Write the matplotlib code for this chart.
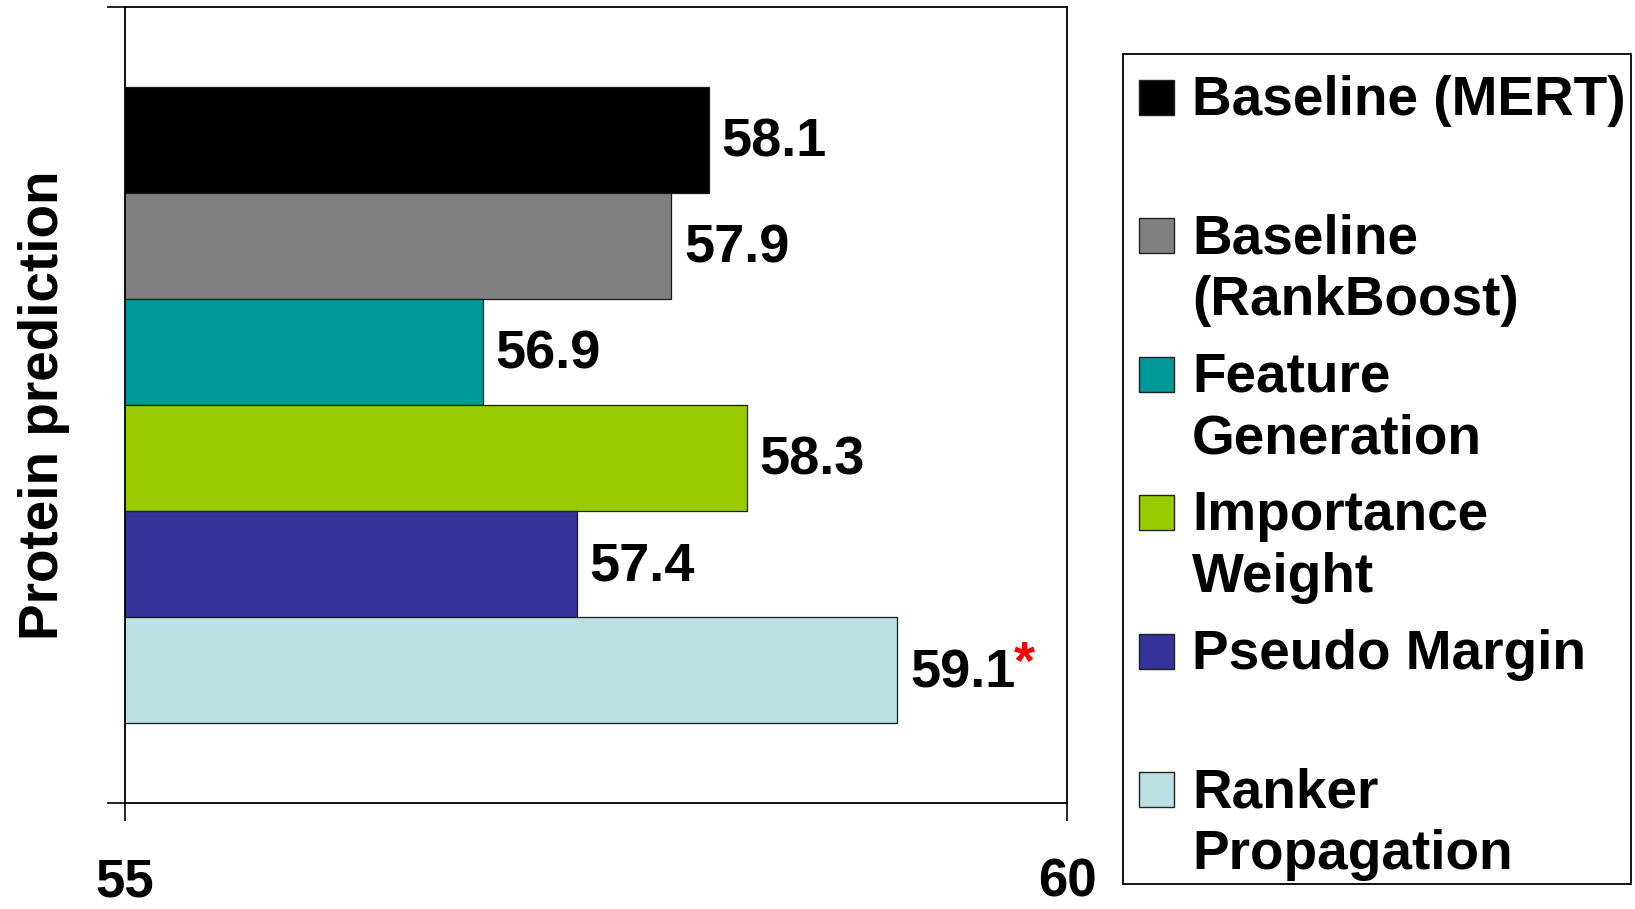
import matplotlib
matplotlib.use("Agg")
import matplotlib.pyplot as plt
from matplotlib.patches import Rectangle
import numpy as np

# Method names (line breaks as shown in the legend), scores and bar colours
methods = ["Baseline (MERT)", "Baseline\n(RankBoost)", "Feature\nGeneration",
           "Importance\nWeight", "Pseudo Margin", "Ranker\nPropagation"]
scores = [58.1, 57.9, 56.9, 58.3, 57.4, 59.1]
colors = ["#000000", "#808080", "#009999", "#99CC00", "#333399", "#BBE0E3"]
significant = [False, False, False, False, False, True]
x_ticks = [55, 60]
y_label = "Protein prediction"

W, H, DPI = 1635, 909, 100
plt.rcParams["font.family"] = ["Liberation Sans", "DejaVu Sans"]
plt.rcParams["font.weight"] = "bold"

fig = plt.figure(figsize=(W / DPI, H / DPI), dpi=DPI)


def fx(px):
    return px / W


def fy(py):
    return 1 - py / H


FS = 39

ax = fig.add_axes([fx(125), fy(803), fx(1067) - fx(125), fy(7) - fy(803)])
pos = np.arange(len(scores))
ax.barh(pos, scores, height=1.0, color=colors, edgecolor="#1a1a1a", linewidth=0.9)
ax.set_xlim(x_ticks[0], x_ticks[-1])
ylim = (len(scores) - 0.5 + 0.75, -0.5 - 0.75)
ax.set_ylim(*ylim)
ax.set_xticks(x_ticks)
ax.set_xticklabels([str(t) for t in x_ticks])
ax.set_yticks(list(ylim))
ax.set_yticklabels([])
ax.tick_params(axis="both", direction="out", length=13, width=1.2, color="black")
ax.tick_params(axis="x", labelsize=38, pad=26)
for s in ax.spines.values():
    s.set_linewidth(1.3)

ax.set_ylabel(y_label, fontsize=39.5, fontweight="bold")
ax.yaxis.set_label_coords((70 - 125) / 942, 0.5)

# Value labels at the end of each bar
for p, v, sig in zip(pos, scores, significant):
    t = ax.annotate(f"{v:.1f}", xy=(v, p), xytext=(9, -2), textcoords="offset points",
                    ha="left", va="center", fontsize=FS, fontweight="bold")
    if sig:
        ax.annotate("*", xy=(1, 1), xycoords=t, xytext=(-1, 6), textcoords="offset points",
                    ha="left", va="top", color="red", fontsize=FS, fontweight="bold")

# Legend box with one entry per method
fig.add_artist(Rectangle((fx(1123), fy(884)), fx(1631) - fx(1123), fy(54) - fy(884),
                         transform=fig.transFigure, fill=False, lw=1.3, ec="black"))
for i, (name, c) in enumerate(zip(methods, colors)):
    base = 115 + i * 138.4
    fig.add_artist(Rectangle((fx(1139), fy(base)), fx(35), 35 / H,
                             transform=fig.transFigure, fc=c, ec="#222222", lw=1.0))
    for j, line in enumerate(name.split("\n")):
        fig.text(fx(1192), fy(base + j * 62), line, fontsize=39.6, fontweight="bold",
                 ha="left", va="baseline")

fig.savefig("out.png", dpi=DPI, facecolor="white")
